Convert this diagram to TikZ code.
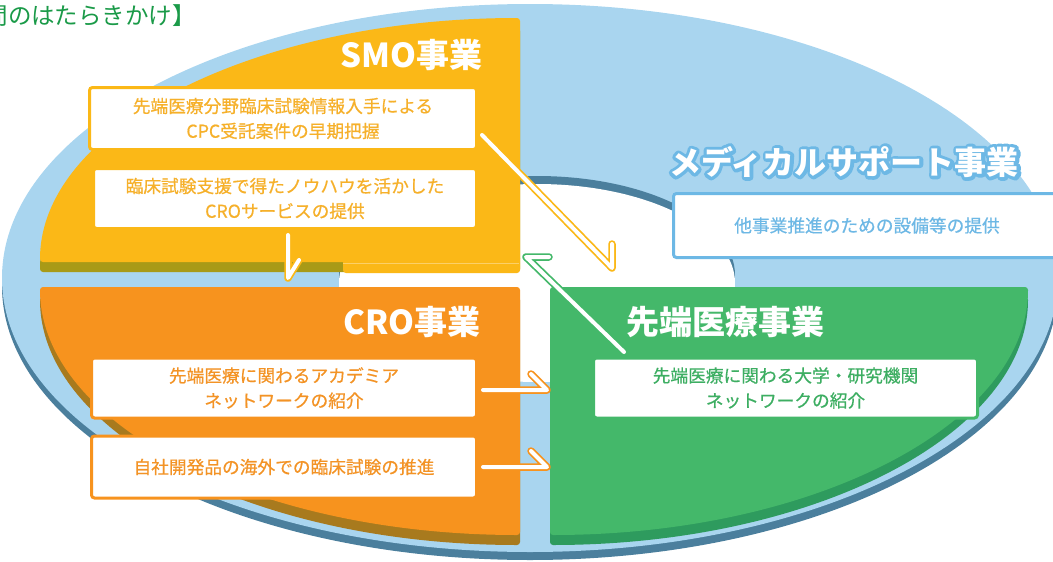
\documentclass[tikz,border=0pt]{standalone}
\usepackage{fontspec}
\newfontfamily\jp{Noto Sans CJK JP}
\newfontfamily\jpm{Noto Sans CJK JP}[FakeBold=0.6]
\newfontfamily\jpoutline{Noto Sans CJK JP Bold}[FakeBold=22]
\usetikzlibrary{calc}
\definecolor{lblue}{HTML}{A9D5EF}
\definecolor{dblue}{HTML}{4B7F9D}
\definecolor{smoY}{HTML}{FBB817}
\definecolor{smoS}{HTML}{A89A17}
\definecolor{croO}{HTML}{F7931E}
\definecolor{croS}{HTML}{A87A1E}
\definecolor{grnG}{HTML}{44B86A}
\definecolor{grnS}{HTML}{2E9B5E}
\definecolor{medB}{HTML}{6DB8E5}
\definecolor{txtY}{HTML}{F6B02A}
\definecolor{txtO}{HTML}{F39325}
\definecolor{txtG}{HTML}{3DAE62}
\definecolor{ttlG}{HTML}{1A9A48}
\tikzset{
  infobox/.style={draw=#1, line width=3pt, fill=white, rounded corners=3pt, align=center, inner sep=0pt, font=\jpm\fontsize{17.7}{25}\selectfont},
  bigtitle/.style={text=white, font=\jp\bfseries\fontsize{33}{36}\selectfont, inner sep=0pt},
  medtitle/.style={text=white, font=\jp\bfseries\fontsize{32}{36}\selectfont, inner sep=0pt},
  medoutline/.style={text=medB, font=\jpoutline\fontsize{32}{36}\selectfont, inner sep=0pt, line join=round},
  harpoonbg/.style={draw=#1, line width=7.5pt, line cap=round, line join=round},
  harpoonfg/.style={draw=white, line width=4pt, line cap=round, line join=round},
}
\begin{document}
\begin{tikzpicture}[x=1pt,y=1pt]
\useasboundingbox (0,0) rectangle (1053,-562);
\clip (0,0) rectangle (1053,-562);
% base ring
\fill[dblue] (530,-286) ellipse [x radius=528pt, y radius=274pt];
\fill[lblue] (530,-278) ellipse [x radius=528pt, y radius=274pt];
% hole
\fill[dblue] (537,-275) ellipse [x radius=198pt, y radius=99pt];
\fill[white] (537,-283) ellipse [x radius=198pt, y radius=99pt];
% shadows
\fill[smoS, rounded corners=3pt] (520,-272) -- (40,-272) arc[start angle=180,end angle=90,x radius=480pt,y radius=244pt] -- cycle;
\fill[smoY, rounded corners=3pt] (343,-255) rectangle (520,-273);
\fill[croS, rounded corners=3pt] (520,-297) -- (40,-297) arc[start angle=180,end angle=270,x radius=480pt,y radius=248pt] -- cycle;
\fill[grnS, rounded corners=3pt] (550,-297) -- (1028,-297) arc[start angle=0,end angle=-90,x radius=478pt,y radius=248pt] -- cycle;
% sector tops
\fill[smoY, rounded corners=3pt] (520,-262) -- (40,-262) arc[start angle=180,end angle=90,x radius=480pt,y radius=244pt] -- cycle;
\draw[white, opacity=0.35, line width=0.8pt] (343,-263) -- (519,-263);
\fill[croO, rounded corners=3pt] (520,-287) -- (40,-287) arc[start angle=180,end angle=270,x radius=480pt,y radius=248pt] -- cycle;
\fill[grnG, rounded corners=3pt] (550,-287) -- (1028,-287) arc[start angle=0,end angle=-90,x radius=478pt,y radius=248pt] -- cycle;

% heading (cut at the left edge)
\node[anchor=west, text=ttlG, inner sep=0pt, font=\jp\fontsize{23.5}{26}\selectfont] (ttl) at (-15.5,-16) {間のはたらきかけ】};

% titles
\node[bigtitle, anchor=east] (smot) at (483,-55) {SMO事業};
\node[bigtitle, anchor=east] (crot) at (481,-322) {CRO事業};
\node[bigtitle] (grnt) at (725,-322) {先端医療事業};
\node[medoutline] (medo) at (844,-162) {メディカルサポート事業};
\node[medtitle] (medt) at (844,-162) {メディカルサポート事業};

% green arrow (under the box)
\coordinate (g1s) at (624,-352);
\coordinate (g1t) at (526,-257);
\coordinate (g1b) at (549,-257);
\draw[harpoonbg=grnG] (g1s) -- (g1t) -- (g1b);
\draw[harpoonfg] (g1s) -- (g1t) -- (g1b);

% boxes
\node[infobox=smoY, text=txtY, minimum width=387pt, minimum height=62pt] (smo1) at (283,-118.5) {先端医療分野臨床試験情報入手による\\CPC受託案件の早期把握};
\node[infobox=smoY, text=txtY, minimum width=383pt, minimum height=60pt] (smo2) at (285,-198.5) {臨床試験支援で得たノウハウを活かした\\CROサービスの提供};
\node[infobox=croO, text=txtO, minimum width=385pt, minimum height=60pt] (cro1) at (284,-388) {先端医療に関わるアカデミア\\ネットワークの紹介};
\node[infobox=croO, text=txtO, minimum width=385pt, minimum height=62pt] (cro2) at (284,-467) {自社開発品の海外での臨床試験の推進};
\node[infobox=grnG, text=txtG, minimum width=384pt, minimum height=60pt] (grn1) at (785.5,-388) {先端医療に関わる大学・研究機関\\ネットワークの紹介};
\node[infobox=medB, text=medB, minimum width=387pt, minimum height=64pt] (med1) at (867,-225.5) {他事業推進のための設備等の提供};

% harpoon arrows
\coordinate (a1s) at ($(smo2.south)+(3,-5)$);
\coordinate (a1t) at (288,-278);
\coordinate (a1b) at (299,-260);
\draw[harpoonbg=smoY] (a1s) -- (a1t) -- (a1b);
\draw[harpoonfg] (a1s) -- (a1t) -- (a1b);

\coordinate (s1s) at (482,-135);
\coordinate (s1t) at (612,-268);
\coordinate (s1b) at (612,-244);
\draw[harpoonbg=smoY] (s1s) -- (s1t) -- (s1b);
\draw[harpoonfg] (s1s) -- (s1t) -- (s1b);

\coordinate (c1s) at (483,-390);
\coordinate (c1t) at (547,-390);
\coordinate (c1b) at (531,-374);
\draw[harpoonbg=croO] (c1s) -- (c1t) -- (c1b);
\draw[harpoonfg] (c1s) -- (c1t) -- (c1b);

\coordinate (c2s) at (483,-467);
\coordinate (c2t) at (547,-467);
\coordinate (c2b) at (531,-451);
\draw[harpoonbg=croO] (c2s) -- (c2t) -- (c2b);
\draw[harpoonfg] (c2s) -- (c2t) -- (c2b);
\end{tikzpicture}
\end{document}
